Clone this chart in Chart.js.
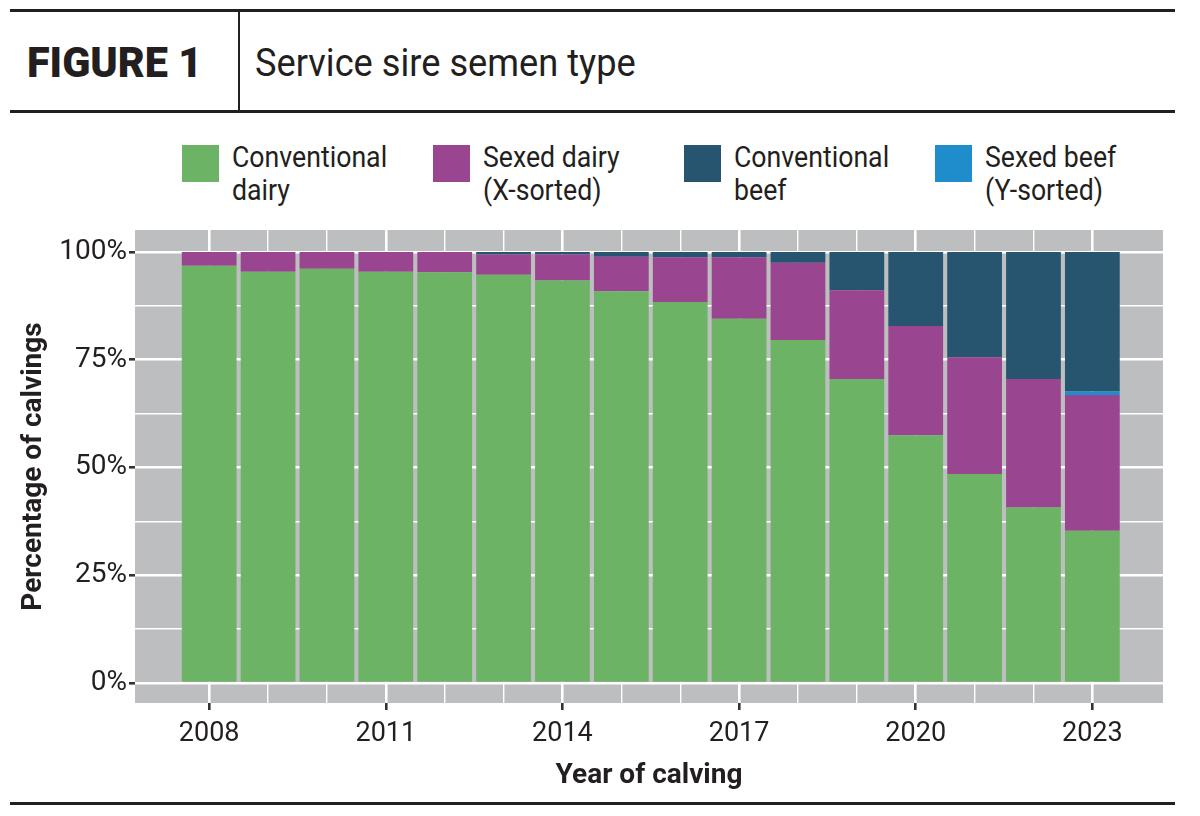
<!DOCTYPE html>
<html>
<head>
  <title>Service sire semen type</title>
  <script src="https://cdn.jsdelivr.net/npm/chart.js"></script>
  <style>
    body { margin: 0; background: #fff; font-family: Roboto, "Liberation Sans", sans-serif; color: #231f20; }
    #wrap { position: relative; width: 1200px; height: 816px; overflow: hidden; }
    .rule { position: absolute; left: 10px; width: 1165px; height: 3px; background: #231f20; }
    #divider { position: absolute; left: 238px; top: 11px; width: 2px; height: 101px; background: #231f20; }
    #fig { position: absolute; left: 27px; top: 36px; font-size: 42px; font-weight: 900; line-height: 54px; transform: scaleX(0.985); transform-origin: 0 0; }
    #title { position: absolute; left: 255px; top: 37px; font-size: 38px; line-height: 52px; transform: scaleX(0.953); transform-origin: 0 0; }
    .leg { position: absolute; top: 145px; }
    .leg .sw { position: absolute; left: 0; top: 0; width: 37px; height: 37px; }
    .leg .tx { position: absolute; left: 50px; top: -4px; font-size: 29px; line-height: 33px; white-space: nowrap; transform: scaleX(0.92); transform-origin: 0 0; }
    canvas { position: absolute; left: 0; top: 0; }
  </style>
</head>
<body>
<div id="wrap">
  <div class="rule" style="top:9px"></div>
  <div id="divider"></div>
  <div id="fig">FIGURE 1</div>
  <div id="title">Service sire semen type</div>
  <div class="rule" style="top:110px"></div>
  <div id="legend"></div>
  <canvas id="myChart" width="1200" height="816"></canvas>
  <div class="rule" style="top:802px"></div>
</div>
<script>
  // values, percent of calvings per year
  const years = [2008, 2009, 2010, 2011, 2012, 2013, 2014, 2015, 2016, 2017, 2018, 2019, 2020, 2021, 2022, 2023];
  const conventionalDairy = [96.8, 95.4, 96.1, 95.4, 95.3, 94.7, 93.4, 90.9, 88.4, 84.5, 79.6, 70.5, 57.5, 48.5, 40.7, 35.3];
  const sexedDairy = [3.2, 4.6, 3.9, 4.6, 4.7, 4.7, 6.0, 8.0, 10.4, 14.3, 17.9, 20.6, 25.3, 27.1, 29.8, 31.5];
  const sexedBeef = [0, 0, 0, 0, 0, 0, 0, 0, 0, 0, 0, 0, 0, 0, 0, 0.8];
  const conventionalBeef = [0, 0, 0, 0, 0, 0.6, 0.6, 1.1, 1.2, 1.2, 2.5, 8.9, 17.2, 24.4, 29.5, 32.4];
  const yTicks = [0, 12.5, 25, 37.5, 50, 62.5, 75, 87.5, 100];
  const xLabelEvery = 3;

  const legendItems = [
    ['Conventional', 'dairy', '#6db366'],
    ['Sexed dairy', '(X-sorted)', '#9a458f'],
    ['Conventional', 'beef', '#27546f'],
    ['Sexed beef', '(Y-sorted)', '#1f8ccc']
  ];
  const legendLeft = [182, 433, 684, 935];
  const legend = document.getElementById('legend');
  legendItems.forEach((it, i) => {
    const d = document.createElement('div');
    d.className = 'leg';
    d.style.left = legendLeft[i] + 'px';
    d.innerHTML = '<div class="sw" style="background:' + it[2] + '"></div><div class="tx">' + it[0] + '<br>' + it[1] + '</div>';
    legend.appendChild(d);
  });

  const font = 'Roboto, "Liberation Sans", sans-serif';
  const ink = '#231f20';

  // gray panel behind the grid
  const panel = {
    id: 'panel',
    beforeDraw(chart) {
      const a = chart.chartArea;
      chart.ctx.save();
      chart.ctx.fillStyle = '#bdbec0';
      chart.ctx.fillRect(a.left, a.top, a.right - a.left, a.bottom - a.top);
      chart.ctx.restore();
    }
  };

  const isMajorX = c => c.tick && (c.tick.value - years[0]) % xLabelEvery === 0;
  const isMajorY = c => c.tick && c.tick.value % 25 === 0;

  const ds = (label, data, color) => ({
    label, data, backgroundColor: color, borderWidth: 0,
    barPercentage: 0.93, categoryPercentage: 1
  });

  new Chart(document.getElementById('myChart'), {
    type: 'bar',
    data: {
      labels: years,
      datasets: [
        ds('Conventional dairy', conventionalDairy, '#6db366'),
        ds('Sexed dairy (X-sorted)', sexedDairy, '#9a458f'),
        ds('Sexed beef (Y-sorted)', sexedBeef, '#1f8ccc'),
        ds('Conventional beef', conventionalBeef, '#27546f')
      ]
    },
    options: {
      responsive: false,
      animation: false,
      layout: { padding: { top: 230, right: 37, left: 0, bottom: 0 } },
      plugins: { legend: { display: false }, tooltip: { enabled: false } },
      scales: {
        x: {
          type: 'linear',
          stacked: true,
          offset: false,
          min: 2006.74,
          max: 2024.2,
          afterBuildTicks: s => { s.ticks = years.map(v => ({ value: v })); },
          afterFit: s => { s.height = 113; },
          border: { display: false },
          grid: {
            offset: false,
            color: '#ffffff',
            lineWidth: c => isMajorX(c) ? 2.6 : 1.4,
            tickColor: c => isMajorX(c) ? '#333' : 'rgba(0,0,0,0)',
            tickLength: 7,
            tickWidth: 2.6
          },
          ticks: {
            autoSkip: false,
            maxRotation: 0,
            padding: 8,
            color: ink,
            font: { family: font, size: 27 },
            callback: v => (v - years[0]) % xLabelEvery === 0 ? String(v) : ''
          },
          title: {
            display: true,
            text: 'Year of calving',
            color: ink,
            font: { family: font, size: 28, weight: 'bold' },
            padding: { top: 0, bottom: 23 }
          }
        },
        y: {
          stacked: true,
          min: -4.65,
          max: 105.1,
          afterBuildTicks: s => { s.ticks = yTicks.map(v => ({ value: v })); },
          afterFit: s => { s.width = 135; },
          border: { display: false },
          grid: {
            color: '#ffffff',
            lineWidth: c => isMajorY(c) ? 2.6 : 1.4,
            tickColor: c => isMajorY(c) ? '#333' : 'rgba(0,0,0,0)',
            tickLength: 6,
            tickWidth: 2.6
          },
          ticks: {
            autoSkip: false,
            padding: 2,
            color: ink,
            font: { family: font, size: 28 },
            callback: v => v % 25 === 0 ? v + '%' : ''
          },
          title: {
            display: true,
            text: 'Percentage of calvings',
            color: ink,
            font: { family: font, size: 28, weight: 'bold' },
            padding: { top: 17, bottom: 0 }
          }
        }
      }
    },
    plugins: [panel]
  });
</script>
</body>
</html>
